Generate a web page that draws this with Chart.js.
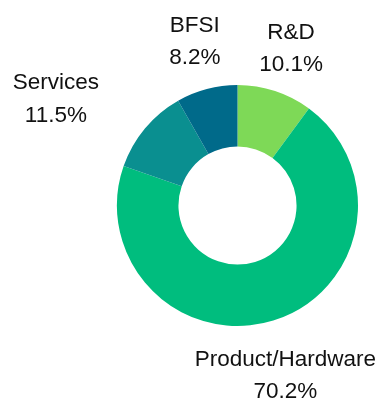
<!DOCTYPE html>
<html>
<head>
<meta charset="utf-8">
<script src="https://cdn.jsdelivr.net/npm/chart.js@4/dist/chart.umd.min.js"></script>
<style>
  html, body { margin: 0; padding: 0; background: #fff; }
  canvas { display: block; }
</style>
</head>
<body>
<canvas id="chart" width="379" height="399"></canvas>
<script>
'use strict';

const categories = ['R&D', 'Product/Hardware', 'Services', 'BFSI'];
const shares = [10.1, 70.2, 11.5, 8.2];
const shareLabels = ['10.1%', '70.2%', '11.5%', '8.2%'];
const colors = ['#7ed957', '#00bd7e', '#0a8f90', '#006a8a'];

// nudge of each label block from the outer middle of its slice
const labelOffsets = [
    [16, -44],
    [12, 53],
    [-89, -31],
    [-12, -49]
];

const outsideLabels = {
    id: 'outsideLabels',
    afterDatasetsDraw(chart) {
        const ctx = chart.ctx;
        const meta = chart.getDatasetMeta(0);
        ctx.save();
        ctx.font = '22.5px "Liberation Sans", Arial, sans-serif';
        ctx.fillStyle = '#111';
        ctx.textAlign = 'center';
        ctx.textBaseline = 'alphabetic';
        meta.data.forEach((arc, i) => {
            const p = arc.getProps(['x', 'y', 'startAngle', 'endAngle', 'outerRadius'], true);
            const mid = (p.startAngle + p.endAngle) / 2;
            const x = p.x + Math.cos(mid) * p.outerRadius + labelOffsets[i][0];
            const y = p.y + Math.sin(mid) * p.outerRadius + labelOffsets[i][1];
            ctx.fillText(categories[i], x, y - 8);
            ctx.fillText(shareLabels[i], x, y + 24.4);
        });
        ctx.restore();
    }
};

new Chart(document.getElementById('chart'), {
    type: 'doughnut',
    data: {
        labels: categories,
        datasets: [{
            data: shares,
            backgroundColor: colors,
            borderWidth: 0,
            hoverOffset: 0
        }]
    },
    options: {
        responsive: false,
        animation: false,
        cutout: '49%',
        layout: {
            padding: { left: 117, right: 21, top: 85, bottom: 73 }
        },
        plugins: {
            legend: { display: false },
            tooltip: { enabled: false }
        }
    },
    plugins: [outsideLabels]
});
</script>
</body>
</html>
